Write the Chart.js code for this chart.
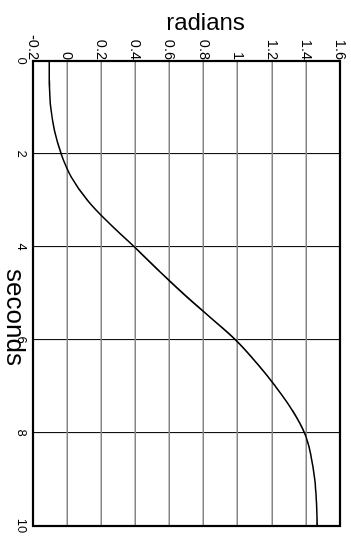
<!DOCTYPE html>
<html>
<head>
<meta charset="utf-8">
<script src="https://cdn.jsdelivr.net/npm/chart.js@4/dist/chart.umd.min.js"></script>
<style>
  html, body { margin: 0; padding: 0; background: #fff; }
  body { width: 351px; height: 542px; overflow: hidden; position: relative; }
  /* the plot is laid out sideways (time along the wide edge) and turned a quarter clockwise */
  #wrap {
    position: absolute; left: 0; top: 0;
    width: 542px; height: 351px;
    transform-origin: 0 0;
    transform: translate(351px, 0) rotate(90deg);
  }
</style>
</head>
<body>
<div id="wrap"><canvas id="c" width="542" height="351"></canvas></div>
<script>
// joint angle over time
const seconds = [0, 0.5, 1, 1.5, 2, 2.5, 3, 3.5, 4, 4.5, 5, 5.5, 6, 6.5, 7, 7.5, 8, 8.5, 9, 9.5, 10];
const radians = [-0.105, -0.104, -0.096, -0.074, -0.035, 0.025, 0.12, 0.25, 0.395, 0.535, 0.68,
                 0.835, 0.988, 1.112, 1.222, 1.318, 1.392, 1.43, 1.452, 1.462, 1.466];

const secondTicks = [0, 2, 4, 6, 8, 10];
const radianTicks = [-0.2, 0, 0.2, 0.4, 0.6, 0.8, 1, 1.2, 1.4, 1.6];

const xTitle = 'seconds';
const yTitle = 'radians';

const FONT = '"Liberation Sans", Arial, Helvetica, sans-serif';

// frame around the plotting area plus the two axis titles
const framePlugin = {
  id: 'frame',
  afterDraw(chart) {
    const { ctx, chartArea: a } = chart;
    ctx.save();
    ctx.strokeStyle = '#000';
    ctx.lineWidth = 2.2;
    ctx.strokeRect(a.left, a.top, a.right - a.left, a.bottom - a.top);

    ctx.fillStyle = '#000';
    ctx.textAlign = 'center';
    ctx.textBaseline = 'alphabetic';

    ctx.font = '26px ' + FONT;
    ctx.fillText(xTitle, (a.left + a.right) / 2 + 24, chart.height - 7);

    ctx.font = '24px ' + FONT;
    ctx.translate(30, (a.top + a.bottom) / 2 - 19);
    ctx.rotate(-Math.PI / 2);
    ctx.fillText(yTitle, 0, 0);
    ctx.restore();
  }
};

const fmt = v => String(Math.round(v * 10) / 10);

new Chart(document.getElementById('c'), {
  type: 'scatter',
  data: {
    datasets: [{
      data: seconds.map((s, i) => ({ x: s, y: radians[i] })),
      showLine: true,
      borderColor: '#000',
      borderWidth: 1.6,
      pointRadius: 0,
      tension: 0.4,
      fill: false
    }]
  },
  options: {
    responsive: false,
    animation: false,
    events: [],
    layout: { padding: { left: 0, top: 11, right: 16, bottom: 0 } },
    plugins: { legend: { display: false }, tooltip: { enabled: false } },
    scales: {
      x: {
        type: 'linear',
        position: 'bottom',
        min: 0, max: 10,
        afterBuildTicks: s => { s.ticks = secondTicks.map(v => ({ value: v })); },
        afterFit: s => { s.height = 33; },
        grid: { color: '#111', lineWidth: 1.1, drawTicks: false },
        border: { display: false },
        ticks: {
          color: '#000', padding: 4, maxRotation: 0, autoSkip: false,
          font: { family: FONT, size: 13 },
          callback: fmt
        },
        title: { display: false }
      },
      y: {
        type: 'linear',
        position: 'left',
        min: -0.2, max: 1.6,
        afterBuildTicks: s => { s.ticks = radianTicks.map(v => ({ value: v })); },
        afterFit: s => { s.width = 61; },
        grid: { color: '#858585', lineWidth: 1.5, drawTicks: false },
        border: { display: false },
        ticks: {
          color: '#000', padding: 1, autoSkip: false,
          font: { family: FONT, size: 14.5 },
          callback: fmt
        },
        title: { display: false }
      }
    }
  },
  plugins: [framePlugin]
});
</script>
</body>
</html>
